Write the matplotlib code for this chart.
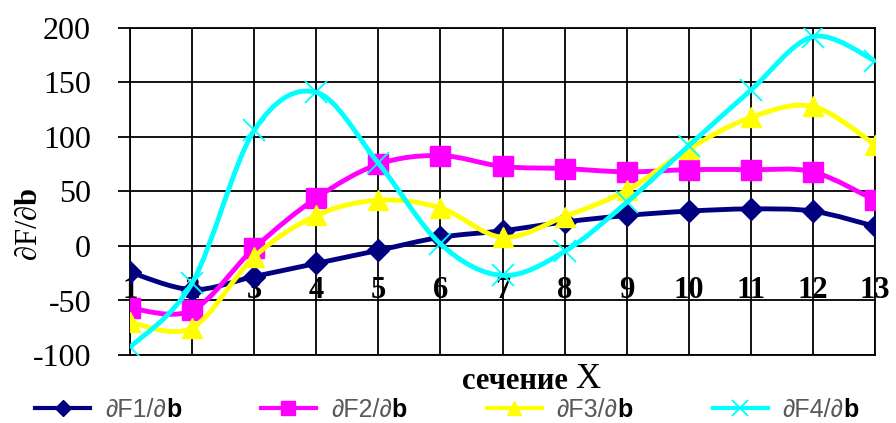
import numpy as np
import matplotlib.pyplot as plt
from matplotlib.path import Path
from matplotlib.patches import PathPatch
from matplotlib.lines import Line2D

plt.rcParams['mathtext.fontset'] = 'custom'
plt.rcParams['mathtext.rm'] = 'Liberation Serif'
plt.rcParams['mathtext.bf'] = 'Liberation Serif:bold'
plt.rcParams['axes.unicode_minus'] = False

# сечения и производные по b
sections = list(range(1, 14))
dF1 = [-24, -40, -28, -16, -4, 8, 14, 22, 28, 32, 34, 32, 18]
dF2 = [-57, -59, -2, 44, 75, 83, 73, 71, 68, 70, 70, 68, 42]
dF3 = [-70, -75, -10, 28, 42, 35, 8, 27, 51, 89, 118, 128, 93]
dF4 = [-93, -34, 106, 141, 76, 2, -27, -5, 40, 92, 143, 192, 170]
labels = ["∂F1/∂", "∂F2/∂", "∂F3/∂", "∂F4/∂"]
yticks = [-100, -50, 0, 50, 100, 150, 200]

styles = [
    dict(color='#000080', marker='D', ms=11, mew=1),
    dict(color='#FF00FF', marker='s', ms=14, mew=1),
    dict(color='#FFFF00', marker='^', ms=14, mew=1),
    dict(color='#00FFFF', marker='x', ms=16, mew=1.3),
]


def smooth_path(x, y):
    # сглаженная линия как в Excel (кривые Безье через точки)
    pts = np.column_stack([x, y]).astype(float)
    n = len(pts)
    verts = [pts[0]]
    codes = [Path.MOVETO]
    for i in range(n - 1):
        p0 = pts[max(i - 1, 0)]
        p1 = pts[i]
        p2 = pts[i + 1]
        p3 = pts[min(i + 2, n - 1)]
        verts += [p1 + (p2 - p0) / 6, p2 - (p3 - p1) / 6, p2]
        codes += [Path.CURVE4] * 3
    return Path(verts, codes)


fig = plt.figure(figsize=(8.96, 4.23), dpi=100)
ax = fig.add_axes([130 / 896, 1 - 355 / 423, 745 / 896, 327 / 423])

handles = []
for k, (vals, st) in enumerate(zip([dF1, dF2, dF3, dF4], styles)):
    ax.add_patch(PathPatch(smooth_path(sections, vals), facecolor='none',
                           edgecolor=st['color'], lw=3.5, zorder=3 + k))
    ax.plot(sections, vals, ls='none', marker=st['marker'], ms=st['ms'],
            color=st['color'], mec=st['color'], mew=st['mew'], zorder=3 + k)
    handles.append(Line2D([], [], color=st['color'], lw=3, marker=st['marker'],
                          ms=st['ms'] * 0.75, mew=st['mew']))

ax.set_xlim(1, 13)
ax.set_ylim(-100, 200)
ax.set_xticks(sections)
ax.set_yticks(yticks)
ax.grid(True, color='black', lw=1.3)
ax.set_axisbelow(True)
for sp in ax.spines.values():
    sp.set_color('black')
    sp.set_linewidth(1.3)
ax.tick_params(axis='x', length=0, labelbottom=False)
ax.tick_params(axis='y', direction='out', length=9, width=1.3, pad=19,
               labelsize=23)
for t in ax.get_yticklabels():
    t.set_family('Liberation Serif')

# номера сечений над линией -50
for s in sections:
    ax.text(s, -48, str(s), ha='center', va='baseline', fontsize=22,
            fontweight='bold', family='Liberation Serif', zorder=2)

fig.text(28 / 896, 1 - 224 / 423, r'$\partial\mathrm{F}/\partial\mathbf{b}$',
         rotation=90, ha='center', va='center', fontsize=22)

xl = fig.text(462 / 896, 1 - 381 / 423, 'сечение ', ha='left', va='center',
              fontsize=22, fontweight='bold', family='Liberation Serif')
ax.annotate('X', xy=(1, 0), xycoords=xl, ha='left', va='bottom',
            fontsize=25, family='Liberation Serif', zorder=10)

leg = ax.legend(handles, labels, loc='center left', ncol=4, frameon=False,
                bbox_to_anchor=(35 / 896, 1 - 410 / 423),
                bbox_transform=fig.transFigure, borderpad=0, borderaxespad=0,
                handlelength=2.2, handletextpad=0.6, columnspacing=3.8,
                prop={'family': 'Liberation Sans', 'size': 18})
for t in leg.get_texts():
    t.set_color('#595959')
    ax.annotate('b', xy=(1, 0), xycoords=t, ha='left', va='bottom',
                fontsize=18, fontweight='bold', family='Liberation Sans',
                color='black', zorder=10, annotation_clip=False)

fig.savefig('out.png', dpi=100)
